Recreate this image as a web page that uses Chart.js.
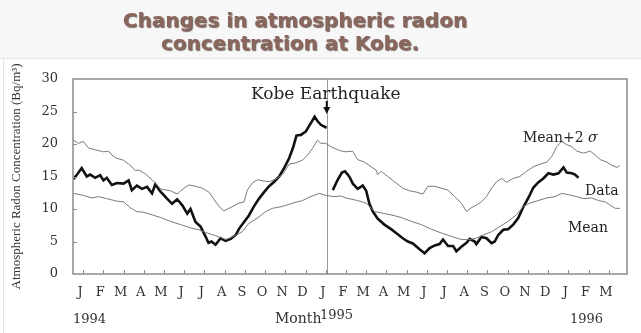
<!DOCTYPE html>
<html>
<head>
<meta charset="utf-8">
<script src="https://cdn.jsdelivr.net/npm/chart.js@4/dist/chart.umd.min.js"></script>
<style>
  html, body { margin: 0; padding: 0; background: #fff; }
  #wrap { width: 641px; height: 333px; position: relative; }
</style>
</head>
<body>
<div id="wrap"><canvas id="chart"></canvas></div>
<script>
// x unit = months, 0 = mid January 1994
const monthLabels = ['J', 'F', 'M', 'A', 'M', 'J', 'J', 'A', 'S', 'O', 'N', 'D',
                     'J', 'F', 'M', 'A', 'M', 'J', 'J', 'A', 'S', 'O', 'N', 'D',
                     'J', 'F', 'M'];
const yTicks = [0, 5, 10, 15, 20, 25, 30];
const quakeMonth = 12.05;

const upperMonths = [-0.48, -0.23, 0.01, 0.26, 0.6, 1.01, 1.26, 1.42, 1.67, 2.0, 2.25, 2.41, 2.58, 2.75, 3.08, 3.41, 3.66, 3.82,
  4.32, 4.65, 4.99, 5.23, 5.56, 5.89, 6.05, 6.22, 6.47, 6.72, 6.96, 7.21, 7.46, 7.71, 7.96, 8.12, 8.37, 8.62, 8.95,
  9.2, 9.53, 9.86, 10.19, 10.52, 10.85, 11.1, 11.34, 11.59, 11.76, 12.0, 12.25, 12.67, 13.0, 13.33, 13.58, 13.92,
  14.24, 14.49, 14.57, 14.74, 15.07, 15.48, 15.81, 16.15, 16.48, 16.81, 17.05, 17.39, 17.72, 18.05, 18.38, 18.71,
  18.96, 19.2, 19.45, 19.7, 19.95, 20.2, 20.45, 20.7, 20.94, 21.27, 21.6, 21.93, 22.27, 22.6, 22.93, 23.18, 23.43,
  23.67, 23.92, 24.17, 24.42, 24.75, 25.08, 25.33, 25.58, 25.91, 26.16, 26.41, 26.54];
const upperValues = [20.6, 20.1, 20.4, 19.4, 19.1, 18.8, 18.9, 18.3, 17.8, 17.5, 16.9, 16.5, 15.9, 16.0, 15.4, 14.5, 13.7, 13.1,
  12.8, 12.3, 13.2, 13.7, 13.5, 13.2, 12.9, 12.6, 11.5, 10.4, 9.7, 10.1, 10.5, 10.9, 11.1, 12.9, 14.0, 14.5, 14.3,
  14.2, 14.6, 15.3, 16.9, 17.1, 17.5, 18.3, 19.3, 20.6, 20.1, 20.1, 19.6, 19.0, 18.8, 18.9, 17.6, 17.2,
  16.5, 16.0, 15.3, 15.8, 15.0, 14.0, 13.2, 12.8, 12.6, 12.3, 13.5, 13.5, 13.2, 12.9, 11.9, 10.9,
  9.6, 10.2, 10.6, 11.1, 11.9, 13.2, 14.2, 14.7, 14.1, 14.7, 15.0, 15.8, 16.5, 16.9, 17.2, 18.1, 19.6,
  20.4, 19.9, 19.6, 18.9, 18.6, 18.9, 18.3, 17.6, 17.2, 16.7, 16.4, 16.7];

const meanMonths = [-0.48, 0.01, 0.43, 0.76, 1.17, 1.67, 2.0, 2.33, 2.66, 2.99, 3.41, 3.82, 4.32, 4.82, 5.31, 5.73, 6.05,
  6.55, 7.05, 7.46, 7.87, 8.2, 8.62, 9.03, 9.36, 9.86, 10.36, 10.85, 11.18, 11.68, 12.0, 12.42, 12.75, 13.0,
  13.58, 14.0, 14.41, 14.74, 15.23, 15.73, 16.23, 16.73, 17.22, 17.72, 18.21, 18.71, 19.12, 19.45, 19.78, 20.2,
  20.61, 21.02, 21.43, 21.77, 22.1, 22.51, 22.93, 23.34, 23.67, 24.0, 24.42, 24.75, 25.16, 25.49, 25.82, 26.07,
  26.32, 26.54];
const meanValues = [12.4, 12.1, 11.7, 11.9, 11.6, 11.2, 11.1, 10.2, 9.6, 9.5, 9.1, 8.7, 8.1, 7.6, 7.1, 6.8, 6.4,
  5.9, 5.3, 5.8, 6.5, 7.8, 8.6, 9.6, 10.1, 10.4, 10.9, 11.3, 11.8, 12.4, 12.1, 11.9, 12.0, 11.7,
  11.3, 10.9, 9.6, 9.4, 9.1, 8.7, 8.1, 7.6, 6.9, 6.3, 5.8, 5.3, 5.3, 5.5, 6.0, 6.5,
  7.3, 8.1, 9.1, 10.4, 10.9, 11.3, 11.7, 11.9, 12.4, 12.2, 11.9, 11.6, 11.7, 11.3, 11.1, 10.6,
  10.1, 10.1];

// null = no record around the earthquake
const dataMonths = [-0.48, -0.3, -0.07, 0.18, 0.35, 0.6, 0.84, 1.01, 1.17, 1.42, 1.67, 2.0, 2.25, 2.41, 2.66, 2.91, 3.16,
  3.41, 3.57, 3.82, 4.15, 4.4, 4.65, 4.9, 5.15, 5.31, 5.56, 5.81, 6.05, 6.2, 6.35, 6.55, 6.8, 7.05, 7.3, 7.55,
  7.71, 7.96, 8.2, 8.45, 8.7, 8.95, 9.2, 9.45, 9.7, 9.94, 10.19, 10.39, 10.55, 10.77, 11.01, 11.18, 11.3, 11.45,
  11.6, 11.76, 12.04, 12.2,
  12.35, 12.59, 12.8, 12.95, 13.09, 13.2, 13.34, 13.58, 13.83, 14.0, 14.16, 14.33, 14.57, 14.9, 15.23, 15.48,
  15.81, 16.06, 16.31, 16.64, 16.89, 17.14, 17.39, 17.63, 17.8, 18.05, 18.3, 18.46, 18.71, 18.96, 19.12, 19.37,
  19.45, 19.7, 19.95, 20.2, 20.36, 20.53, 20.78, 21.02, 21.27, 21.52, 21.77, 22.02, 22.27, 22.51, 22.76, 23.01,
  23.26, 23.51, 23.76, 23.92, 24.17, 24.33, 24.5];
const dataValues = [14.6, 15.3, 16.3, 15.0, 15.3, 14.8, 15.2, 14.4, 14.8, 13.7, 14.0, 13.9, 14.4, 12.9, 13.6, 13.1, 13.4,
  12.4, 13.8, 12.7, 11.6, 10.8, 11.5, 10.6, 9.3, 10.0, 8.0, 7.3, 5.8, 4.8, 5.0, 4.5, 5.5, 5.1, 5.4, 6.0,
  6.95, 8.0, 9.0, 10.4, 11.6, 12.6, 13.5, 14.2, 15.0, 16.3, 17.8, 19.5, 21.3, 21.4, 21.9, 22.8, 23.4, 24.2,
  23.5, 22.95, 22.5, null,
  12.9, 14.5, 15.6, 15.8, 15.3, 14.8, 13.9, 13.1, 13.6, 12.8, 10.8, 9.6, 8.5, 7.6, 6.9, 6.3,
  5.5, 5.0, 4.7, 3.8, 3.2, 4.0, 4.4, 4.6, 5.3, 4.3, 4.3, 3.5, 4.2, 4.8, 5.4, 5.0,
  4.6, 5.7, 5.5, 4.75, 5.0, 6.0, 6.8, 6.9, 7.6, 8.6, 10.3, 11.7, 13.3, 14.1, 14.7, 15.5,
  15.3, 15.5, 16.4, 15.6, 15.5, 15.3, 14.8];

const toPoints = (months, values) => months.map((m, i) => ({ x: m, y: values[i] }));

const serif = "'DejaVu Serif', serif";

const decorPlugin = {
    id: 'decor',
    beforeDraw(chart) {
        const { ctx, width, height } = chart;
        ctx.save();
        ctx.fillStyle = '#ffffff';
        ctx.fillRect(0, 0, width, height);
        ctx.fillStyle = '#f7f7f7';
        ctx.fillRect(0, 0, width, 58);
        ctx.strokeStyle = '#e6e6e6';
        ctx.lineWidth = 1;
        ctx.beginPath();
        ctx.moveTo(0, 58.5); ctx.lineTo(width, 58.5);
        ctx.moveTo(3.5, 58); ctx.lineTo(3.5, height);
        ctx.stroke();

        // title
        ctx.font = "bold 20px 'DejaVu Sans', sans-serif";
        ctx.textAlign = 'center';
        ctx.textBaseline = 'alphabetic';
        ctx.shadowColor = 'rgba(60, 38, 32, 0.7)';
        ctx.shadowOffsetX = 1;
        ctx.shadowOffsetY = 1;
        ctx.shadowBlur = 1;
        ctx.fillStyle = '#8a675d';
        ctx.fillText('Changes in atmospheric radon', 295, 27);
        ctx.fillText('concentration at Kobe.', 290, 50);
        ctx.restore();
    },
    beforeDatasetsDraw(chart) {
        const { ctx, chartArea: a, scales: { x } } = chart;
        const qx = Math.round(x.getPixelForValue(quakeMonth)) + 0.5;
        ctx.save();
        ctx.strokeStyle = '#9a9a9a';
        ctx.lineWidth = 1;
        ctx.beginPath();
        ctx.moveTo(qx, a.top);
        ctx.lineTo(qx, a.bottom);
        ctx.stroke();
        ctx.restore();
    },
    afterDraw(chart) {
        const { ctx, chartArea: a, scales: { x, y } } = chart;
        ctx.save();

        // frame and inward ticks
        ctx.strokeStyle = '#8a8a8a';
        ctx.lineWidth = 1.5;
        ctx.strokeRect(a.left, a.top, a.right - a.left, a.bottom - a.top);
        ctx.lineWidth = 1;
        ctx.beginPath();
        monthLabels.forEach((_, i) => {
            const px = Math.round(x.getPixelForValue(i)) + 0.5;
            ctx.moveTo(px, a.bottom);
            ctx.lineTo(px, a.bottom - 4);
        });
        yTicks.slice(1, -1).forEach(v => {
            const py = Math.round(y.getPixelForValue(v)) + 0.5;
            ctx.moveTo(a.left, py);
            ctx.lineTo(a.left + 4, py);
        });
        ctx.stroke();

        // earthquake arrow
        const qx = x.getPixelForValue(quakeMonth);
        ctx.fillStyle = '#111';
        ctx.fillRect(qx - 1, 101, 2, 7);
        ctx.beginPath();
        ctx.moveTo(qx - 3.5, 107);
        ctx.lineTo(qx + 3.5, 107);
        ctx.lineTo(qx, 114);
        ctx.closePath();
        ctx.fill();

        ctx.textAlign = 'left';
        ctx.textBaseline = 'alphabetic';
        ctx.fillStyle = '#222';
        ctx.font = '17px ' + serif;
        ctx.fillText('Kobe Earthquake', 251, 98.5);

        ctx.font = '14px ' + serif;
        ctx.fillText('Mean+2 ', 523, 142);
        const w = ctx.measureText('Mean+2 ').width;
        ctx.font = 'italic 14px ' + serif;
        ctx.fillText('σ', 523 + w, 142);
        ctx.font = '14px ' + serif;
        ctx.fillText('Data', 585, 195);
        ctx.fillText('Mean', 568, 231.5);

        ctx.fillStyle = '#333';
        ctx.font = '13px ' + serif;
        ctx.fillText('1994', 73, 323);
        ctx.fillText('1995', 320, 319);
        ctx.fillText('1996', 570, 323);
        ctx.font = '14px ' + serif;
        ctx.fillText('Month', 275, 323);
        ctx.restore();
    }
};

new Chart(document.getElementById('chart'), {
    type: 'line',
    data: {
        datasets: [
            {
                label: 'Mean+2σ',
                data: toPoints(upperMonths, upperValues),
                borderColor: '#7a7a7a',
                borderWidth: 1,
                pointRadius: 0,
                tension: 0
            },
            {
                label: 'Mean',
                data: toPoints(meanMonths, meanValues),
                borderColor: '#7a7a7a',
                borderWidth: 1,
                pointRadius: 0,
                tension: 0
            },
            {
                label: 'Data',
                data: toPoints(dataMonths, dataValues),
                borderColor: '#111111',
                borderWidth: 2.6,
                pointRadius: 0,
                tension: 0,
                spanGaps: false
            }
        ]
    },
    options: {
        responsive: true,
        maintainAspectRatio: false,
        devicePixelRatio: 1,
        animation: false,
        layout: { padding: { left: 0, top: 79, right: 14, bottom: 0 } },
        plugins: {
            legend: { display: false },
            tooltip: { enabled: false }
        },
        scales: {
            x: {
                type: 'linear',
                min: -0.5,
                max: 26.9,
                afterBuildTicks: scale => {
                    scale.ticks = monthLabels.map((_, i) => ({ value: i }));
                },
                afterFit: scale => { scale.height = 59; },
                grid: { display: false, drawTicks: false },
                border: { display: false },
                ticks: {
                    autoSkip: false,
                    maxRotation: 0,
                    padding: 11,
                    labelOffset: -3,
                    color: '#333',
                    font: { family: serif, size: 13 },
                    callback: (value) => monthLabels[value] ?? ''
                }
            },
            y: {
                min: 0,
                max: 30,
                afterBuildTicks: scale => {
                    scale.ticks = yTicks.map(v => ({ value: v }));
                },
                afterFit: scale => { scale.width = 73; },
                grid: { display: false, drawTicks: false },
                border: { display: false },
                ticks: {
                    padding: 15,
                    color: '#333',
                    font: { family: serif, size: 13 }
                },
                title: {
                    display: true,
                    text: 'Atmospheric Radon Concentration (Bq/m³)',
                    color: '#333',
                    font: { family: "'Liberation Serif', serif", size: 13 },
                    padding: { top: 9, bottom: 0 }
                }
            }
        }
    },
    plugins: [decorPlugin]
});
</script>
</body>
</html>
